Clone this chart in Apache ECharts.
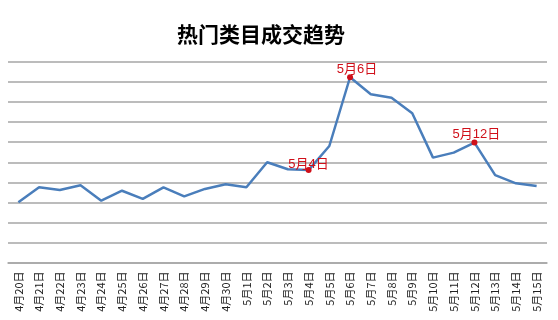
<!DOCTYPE html>
<html>
<head>
<meta charset="utf-8">
<script src="https://cdn.jsdelivr.net/npm/echarts@6/dist/echarts.min.js"></script>
<style>html,body{margin:0;padding:0;background:#fff;}#c{width:558px;height:320px;}</style>
</head>
<body>
<div id="c"></div>
<script>
var categories = ['4月20日','4月21日','4月22日','4月23日','4月24日','4月25日','4月26日','4月27日','4月28日','4月29日','4月30日','5月1日','5月2日','5月3日','5月4日','5月5日','5月6日','5月7日','5月8日','5月9日','5月10日','5月11日','5月12日','5月13日','5月14日','5月15日'];
var values = [3.0,3.75,3.62,3.85,3.08,3.58,3.17,3.75,3.30,3.67,3.90,3.75,5.0,4.65,4.61,5.81,9.24,8.39,8.22,7.44,5.23,5.48,5.98,4.36,3.95,3.81];
var highlighted = ['5月4日','5月6日','5月12日'];
var title = '热门类目成交趋势';

var labelOffsets = { '5月4日': [0, 4], '5月6日': [7, 2], '5月12日': [2, 1] };

var seriesData = values.map(function (v, i) {
  var name = categories[i];
  if (highlighted.indexOf(name) >= 0) {
    return {
      value: v,
      symbol: 'circle',
      symbolSize: 6,
      itemStyle: { color: '#d0101a' },
      label: {
        show: true,
        position: 'top',
        distance: 0,
        offset: labelOffsets[name],
        formatter: name,
        color: '#d0101a',
        fontSize: 13,
        fontFamily: 'Liberation Sans, Noto Sans CJK SC'
      }
    };
  }
  return { value: v };
});

var chart = echarts.init(document.getElementById('c'));
chart.setOption({
  animation: false,
  title: {
    text: title,
    left: 256,
    textAlign: 'center',
    top: 19,
    textStyle: { fontSize: 21, fontWeight: 'bold', color: '#000', fontFamily: 'Noto Sans CJK SC' }
  },
  grid: { left: 8, right: 11, top: 62, bottom: 57.5, containLabel: false },
  xAxis: {
    type: 'category',
    data: categories,
    boundaryGap: true,
    axisLine: { show: true, lineStyle: { color: '#a6a6a6', width: 1.5 } },
    axisTick: { show: false },
    axisLabel: {
      rotate: 90,
      interval: 0,
      margin: 9,
      fontSize: 11,
      color: '#222',
      fontFamily: 'Noto Sans CJK SC'
    }
  },
  yAxis: {
    type: 'value',
    min: 0,
    max: 10,
    interval: 1,
    axisLine: { show: false },
    axisTick: { show: false },
    axisLabel: { show: false },
    splitLine: { lineStyle: { color: '#a6a6a6', width: 1.5 } }
  },
  series: [{
    type: 'line',
    data: seriesData,
    symbol: 'none',
    lineStyle: { color: '#4a7ebb', width: 2.5 },
    itemStyle: { color: '#4a7ebb' }
  }]
});
</script>
</body>
</html>
